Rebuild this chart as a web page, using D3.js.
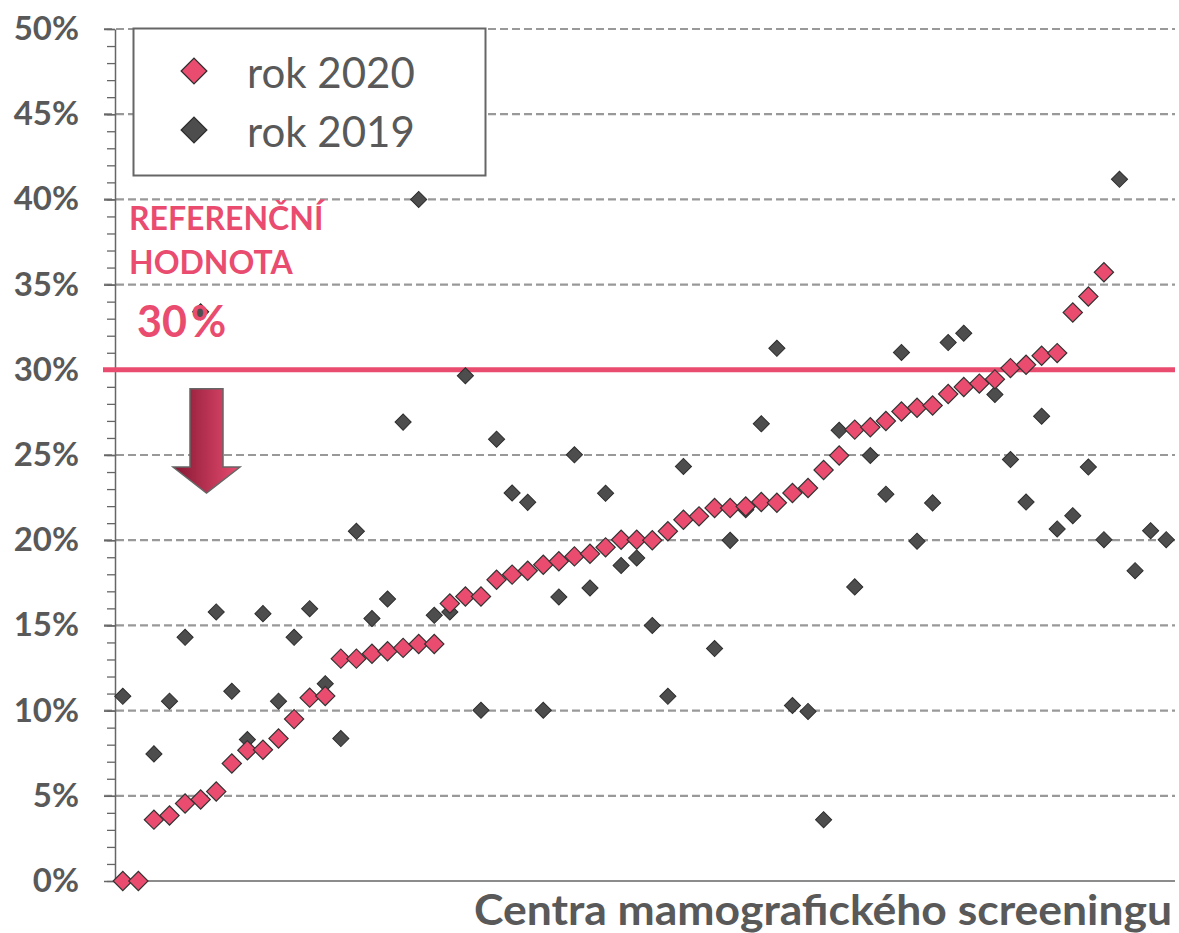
<!DOCTYPE html>
<html>
<head>
<meta charset="utf-8">
<script src="https://cdn.jsdelivr.net/npm/d3@7"></script>
<style>
  body { margin: 0; background: #fff; }
  svg { display: block; font-family: Lato, "Open Sans", sans-serif; }
</style>
</head>
<body>
<div id="graph"></div>
<script>
// values in %, one entry per screening centre (sorted by 2020)
var rok2020 = [0, 0, 3.6, 3.84, 4.55, 4.78, 5.25, 6.9, 7.67, 7.7, 8.36, 9.5, 10.76, 10.86,
  13.05, 13.05, 13.34, 13.48, 13.68, 13.91, 13.91, 16.28, 16.7, 16.7, 17.68, 17.98, 18.21,
  18.56, 18.76, 19.05, 19.21, 19.58, 20.03, 20.03, 20.0, 20.52, 21.2, 21.4, 21.89, 21.89,
  21.98, 22.24, 22.2, 22.77, 23.06, 24.12, 24.97, 26.49, 26.63, 27.0, 27.55, 27.77, 27.91,
  28.58, 28.99, 29.19, 29.44, 30.1, 30.3, 30.82, 30.98, 33.36, 34.3, 35.73,
  null, null, null, null];

var rok2019 = [10.84, null, 7.46, 10.55, 14.3, 33.4, 15.79, 11.13, 8.3, 15.69, 10.55, 14.3,
  15.98, 11.58, 8.36, 20.52, 15.4, 16.55, 26.93, 40.0, 15.59, 15.79, 29.65, 10.02, 25.93,
  22.77, 22.22, 10.02, 16.67, 25.01, 17.2, 22.75, 18.52, 18.96, 15.0, 10.84, 24.33, null,
  13.64, 19.99, 21.79, 26.83, 31.26, 10.3, 9.95, 3.6, 26.45, 17.26, 24.97, 22.7, 31.02,
  19.94, 22.19, 31.6, 32.15, null, 28.55, 24.73, 22.24, 27.28, 20.66, 21.44, 24.29, 20.03,
  41.18, 18.21, 20.56, 20.03];

var centra = d3.range(1, rok2019.length + 1).map(String);
var yTicks = [0, 5, 10, 15, 20, 25, 30, 35, 40, 45, 50];
var referencni = 30;
var seriesNames = ["rok 2020", "rok 2019"];

var width = 1179, height = 933;
var pink = "#E94C6F";
var grey = "#4D4D4D";
var textGrey = "#595959";

function diamond(size) {
  return d3.symbol().type(d3.symbolSquare).size(size)();
}

function start() {
  var svg = d3.select("#graph").append("svg")
    .attr("width", width)
    .attr("height", height);

  var x = d3.scalePoint().domain(centra).range([115, 1174]).padding(0.5);
  var y = d3.scaleLinear().domain([0, 50]).range([881, 29]);

  var defs = svg.append("defs");
  var grad = defs.append("linearGradient")
    .attr("id", "arrowGrad")
    .attr("gradientUnits", "userSpaceOnUse")
    .attr("x1", 173).attr("x2", 240).attr("y1", 0).attr("y2", 0);
  grad.append("stop").attr("offset", "0%").attr("stop-color", "#851633");
  grad.append("stop").attr("offset", "100%").attr("stop-color", "#E84D70");

  // dashed grid lines
  svg.append("g")
    .selectAll("line")
    .data(yTicks.filter(function (d) { return d > 0; }))
    .enter().append("line")
    .attr("x1", 104).attr("x2", 1175)
    .attr("y1", function (d) { return y(d); })
    .attr("y2", function (d) { return y(d); })
    .attr("stroke", "#999")
    .attr("stroke-width", 2.2)
    .attr("stroke-dasharray", "8,4");

  // minor ticks every 1 %
  svg.append("g")
    .attr("transform", "translate(115,0)")
    .call(d3.axisLeft(y).ticks(50).tickSize(8).tickFormat(""))
    .call(function (g) {
      g.select(".domain").remove();
      g.selectAll("line").attr("stroke", "#666").attr("stroke-width", 1.3);
    });

  // y axis with major ticks + labels
  svg.append("g")
    .attr("transform", "translate(115,0)")
    .call(d3.axisLeft(y).tickValues(yTicks).tickSize(11).tickSizeOuter(0).tickPadding(25)
      .tickFormat(function (d) { return d + "%"; }))
    .call(function (g) {
      g.select(".domain").attr("stroke", "#666").attr("stroke-width", 1.5);
      g.selectAll("line").attr("stroke", "#666").attr("stroke-width", 1.5);
      g.selectAll("text")
        .attr("fill", textGrey)
        .attr("font-family", "Lato, sans-serif")
        .attr("font-weight", "bold")
        .attr("font-size", 33);
    });

  // x axis (no ticks)
  svg.append("g")
    .attr("transform", "translate(0," + y(0) + ")")
    .call(d3.axisBottom(x).tickValues([]).tickSizeOuter(0))
    .call(function (g) {
      g.select(".domain").attr("stroke", "#666").attr("stroke-width", 1.5)
        .attr("d", "M115,0H1175");
    });

  // reference line 30 %
  svg.append("line")
    .attr("x1", 103).attr("x2", 1175)
    .attr("y1", y(referencni)).attr("y2", y(referencni))
    .attr("stroke", pink)
    .attr("stroke-width", 5);

  // 2019 first, 2020 on top
  svg.append("g")
    .selectAll("path")
    .data(rok2019.map(function (v, i) { return { c: centra[i], v: v }; })
      .filter(function (d) { return d.v !== null; }))
    .enter().append("path")
    .attr("d", diamond(130))
    .attr("transform", function (d) {
      return "translate(" + x(d.c) + "," + y(d.v) + ") rotate(45)";
    })
    .attr("fill", grey)
    .attr("stroke", "#2E2E2E")
    .attr("stroke-width", 1);

  svg.append("g")
    .selectAll("path")
    .data(rok2020.map(function (v, i) { return { c: centra[i], v: v }; })
      .filter(function (d) { return d.v !== null; }))
    .enter().append("path")
    .attr("d", diamond(185))
    .attr("transform", function (d) {
      return "translate(" + x(d.c) + "," + y(d.v) + ") rotate(45)";
    })
    .attr("fill", pink)
    .attr("stroke", "#333")
    .attr("stroke-width", 1.2);

  // annotation
  var ann = svg.append("g").attr("fill", pink).attr("font-weight", "bold");
  ann.append("text").attr("x", 129).attr("y", 230).attr("font-size", 32).text("REFERENČNÍ");
  ann.append("text").attr("x", 129).attr("y", 274).attr("font-size", 32).text("HODNOTA");
  var pct = ann.append("text").attr("x", 137).attr("y", 337).attr("font-size", 43);
  pct.append("tspan").text("30");
  pct.append("tspan").attr("dx", 4).text("%");

  // arrow
  var top = y(referencni) + 19, base = y(25) + 12, tip = y(25) + 38;
  svg.append("path")
    .attr("d", "M190," + top + "H223V" + base + "H240L206.5," + tip + "L173," + base + "H190Z")
    .attr("fill", "url(#arrowGrad)")
    .attr("stroke", "#666")
    .attr("stroke-width", 1.5);

  // legend
  var legend = svg.append("g");
  legend.append("rect")
    .attr("x", 133.5).attr("y", 28.5)
    .attr("width", 352).attr("height", 147)
    .attr("fill", "#fff")
    .attr("stroke", "#666")
    .attr("stroke-width", 2);
  var legendColors = [pink, grey];
  seriesNames.forEach(function (name, i) {
    var cy = 71 + i * 59;
    legend.append("path")
      .attr("d", diamond(330))
      .attr("transform", "translate(194," + cy + ") rotate(45)")
      .attr("fill", legendColors[i])
      .attr("stroke", "#2E2E2E")
      .attr("stroke-width", 1.3);
    legend.append("text")
      .attr("x", 247).attr("y", cy + 17)
      .attr("font-size", 42)
      .attr("fill", textGrey)
      .text(name);
  });

  // x axis title
  svg.append("text")
    .attr("x", 1172).attr("y", 925)
    .attr("text-anchor", "end")
    .attr("font-size", 42)
    .attr("font-weight", "bold")
    .attr("fill", textGrey)
    .attr("textLength", 698)
    .attr("lengthAdjust", "spacingAndGlyphs")
    .text("Centra mamografického screeningu");
}

window.onload = start;
</script>
</body>
</html>
